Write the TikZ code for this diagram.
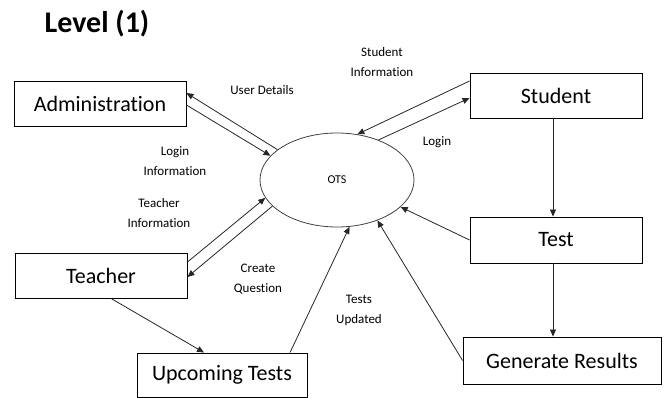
\documentclass[tikz,border=0pt]{standalone}
\usepackage{fontspec}
\setmainfont[Ligatures=NoCommon]{Carlito}
\usetikzlibrary{arrows.meta,shapes.geometric}
\tikzset{
  box/.style={draw=black,line width=0.9pt,rectangle,inner sep=0pt,font=\fontsize{22}{26}\selectfont},
  lbl/.style={font=\fontsize{13}{20}\selectfont,align=center,inner sep=0pt},
  flow/.style={draw=black!85,line width=0.8pt,-{Triangle[length=7pt,width=6pt]}}
}
\begin{document}
\begin{tikzpicture}[x=1pt,y=-1pt]
\useasboundingbox (0,0) rectangle (669,398);
\node[font=\fontsize{30}{34}\selectfont\bfseries,inner sep=0pt] (title) at (97,24) {Level (1)};
\node[box,minimum width=172pt,minimum height=45pt] (adm) at (100,103.5) {Administration};
\node[box,minimum width=172pt,minimum height=45pt] (stu) at (556,95.5) {Student};
\node[box,minimum width=172pt,minimum height=45pt] (tea) at (101,275.5) {Teacher};
\node[box,minimum width=170pt,minimum height=44pt] (upc) at (222,375) {Upcoming Tests};
\node[box,minimum width=172pt,minimum height=46pt] (tst) at (556,240) {Test};
\node[box,minimum width=198pt,minimum height=47pt] (gen) at (562,360.5) {Generate Results};
\node[draw=black!75,line width=0.8pt,ellipse,minimum width=154pt,minimum height=94pt,inner sep=0pt,font=\fontsize{12}{14}\selectfont] (ots) at (337,180) {OTS};
% admin
\draw[flow] (ots.153) -- ([yshift=10.5pt]adm.east);
\draw[flow] ([yshift=-1.5pt]adm.east) -- (ots.160);
% teacher
\draw[flow] ([yshift=13.5pt]tea.east) -- (ots.194);
\draw[flow] (ots.202.6) -- ([yshift=-1.5pt]tea.east);
% student
\draw[flow] ([yshift=14.5pt]stu.west) -- (ots.66);
\draw[flow] (ots.44) -- ([yshift=-2.5pt]stu.west);
% others
\draw[flow] ([xshift=-3pt]stu.south) -- ([xshift=-3pt]tst.north);
\draw[flow] (tst.west) -- (ots.337);
\draw[flow] ([xshift=-3pt]tst.south) -- ([xshift=-9pt]gen.north);
\draw[flow] (gen.west) -- (ots.315);
\draw[flow] ([xshift=10pt]tea.south) -- ([xshift=-18pt]upc.north);
\draw[flow] ([xshift=68pt]upc.north) -- (ots.285.5);
% labels
\node[lbl] (l1) at (262,90) {User Details};
\node[lbl] (l2) at (175,161) {Login\\Information};
\node[lbl] (l3) at (159,213) {Teacher\\Information};
\node[lbl] (l4) at (258,279) {Create\\Question};
\node[lbl] (l5) at (382,62) {Student\\Information};
\node[lbl] (l6) at (437,142) {Login};
\node[lbl] (l7) at (359,310) {Tests\\Updated};
\end{tikzpicture}
\end{document}
